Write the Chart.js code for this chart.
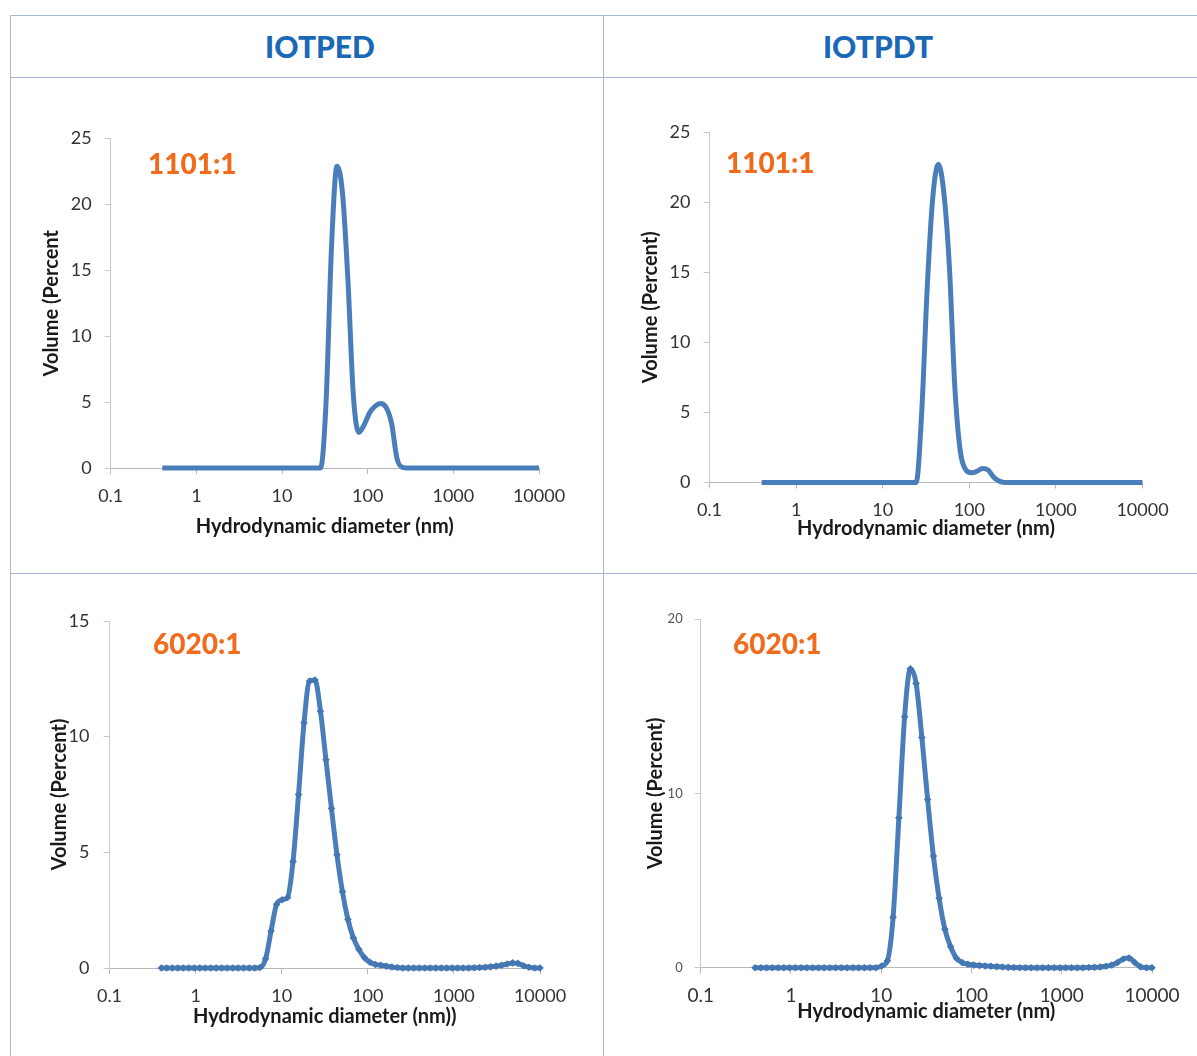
<!DOCTYPE html>
<html>
<head>
<meta charset="utf-8">
<script src="https://cdn.jsdelivr.net/npm/chart.js@4.4.1/dist/chart.umd.min.js"></script>
<style>
body{margin:0;background:#fff;width:1197px;height:1056px;overflow:hidden;position:relative;font-family:Lato,sans-serif}
.ln{position:absolute;background:#a9b7d6}
.hd{position:absolute;top:28px;width:240px;text-align:center;font:900 30px/36px Lato,sans-serif;color:#1a69b8}
.tag{position:absolute;font:900 28px/34px Lato,sans-serif;color:#f06b1c}
canvas{position:absolute}
</style>
</head>
<body>
<div class="ln" style="left:10px;top:15px;width:1200px;height:1px"></div>
<div class="ln" style="left:10px;top:77px;width:1200px;height:1px"></div>
<div class="ln" style="left:10px;top:573px;width:1200px;height:1px"></div>
<div class="ln" style="left:10px;top:15px;width:1px;height:1050px"></div>
<div class="ln" style="left:603px;top:15px;width:1px;height:1050px"></div>

<div class="hd" style="left:200px">IOTPED</div>
<div class="hd" style="left:758px">IOTPDT</div>

<canvas id="c1"></canvas>
<canvas id="c2"></canvas>
<canvas id="c3"></canvas>
<canvas id="c4"></canvas>

<div class="tag" style="left:148px;top:146px">1101:1</div>
<div class="tag" style="left:726px;top:145px">1101:1</div>
<div class="tag" style="left:153px;top:626px">6020:1</div>
<div class="tag" style="left:733px;top:626px">6020:1</div>

<script>
// size bins (nm)
var diameters=[0.4,0.4632,0.5365,0.6213,0.7195,0.8332,0.9649,1.117,1.294,1.499,
  1.736,2.01,2.328,2.696,3.122,3.615,4.187,4.849,5.615,6.503,
  7.531,8.721,10.1,11.7,13.54,15.69,18.17,21.04,24.36,28.21,
  32.67,37.84,43.82,50.75,58.77,68.06,78.82,91.28,105.7,122.4,
  141.8,164.2,190.1,220.2,255,295.3,342,396.1,458.7,531.2,
  615.1,712.4,825,955.4,1106,1281,1484,1718,1990,2305,
  2669,3091,3580,4145,4801,5560,6439,7456,8635,10000];

// IOTPED 1101:1
var iotped1101=[0,0,0,0,0,0,0,0,0,0,
  0,0,0,0,0,0,0,0,0,0,
  0,0,0,0,0,0,0,0,0,0,
  5.0,16.8,22.9,20.9,14.3,5.5,2.7,3.3,4.2,4.7,
  4.9,4.6,3.4,0.7,0.05,0,0,0,0,0,
  0,0,0,0,0,0,0,0,0,0,
  0,0,0,0,0,0,0,0,0,0];

// IOTPDT 1101:1
var iotpdt1101=[0,0,0,0,0,0,0,0,0,0,
  0,0,0,0,0,0,0,0,0,0,
  0,0,0,0,0,0,0,0,0,5.0,
  13.9,20.3,22.7,20.7,15.5,6.8,2.2,0.9,0.7,0.8,
  1.0,0.9,0.4,0.1,0,0,0,0,0,0,
  0,0,0,0,0,0,0,0,0,0,
  0,0,0,0,0,0,0,0,0,0];

// IOTPED 6020:1
var iotped6020=[0,0,0,0,0,0,0,0,0,0,
  0,0,0,0,0,0,0,0,0.02,0.4,
  1.6,2.75,2.95,3.05,4.6,7.5,10.6,12.4,12.45,11.1,
  9.0,6.9,4.9,3.3,2.1,1.3,0.8,0.45,0.25,0.15,
  0.12,0.08,0.04,0.02,0,0,0,0,0,0,
  0,0,0,0,0,0,0,0.01,0.02,0.03,
  0.05,0.08,0.12,0.17,0.22,0.2,0.1,0.03,0,0];

// IOTPDT 6020:1
var iotpdt6020=[0,0,0,0,0,0,0,0,0,0,
  0,0,0,0,0,0,0,0,0,0,
  0,0,0.1,0.4,2.9,8.6,14.4,17.15,16.3,13.2,
  9.65,6.4,3.98,2.2,1.2,0.54,0.3,0.2,0.15,0.12,
  0.1,0.08,0.06,0.04,0.02,0.01,0,0,0,0,
  0,0,0,0,0,0,0,0,0.01,0.02,
  0.04,0.08,0.15,0.3,0.5,0.55,0.3,0.05,0,0];

var xTicks=[0.1,1,10,100,1000,10000];

Chart.defaults.font.family='Lato, sans-serif';

function makeChart(id,values,L){
  var el=document.getElementById(id);
  el.width=L.box[2];el.height=L.box[3];
  el.style.left=L.box[0]+'px';el.style.top=L.box[1]+'px';
  var boxR=L.box[0]+L.box[2],boxB=L.box[1]+L.box[3];
  var half=20*1.2/2;
  var yLeft=L.yTitleX-half,xBottom=L.xTitleY+half;
  var yW=L.area[0]-yLeft,xH=xBottom-L.area[3];
  new Chart(el,{
    type:'line',
    data:{datasets:[{
      data:diameters.map(function(d,i){return {x:d,y:values[i]};}),
      borderColor:'#4a7ebb',
      borderWidth:5,
      pointRadius:L.markers?3.8:0,
      pointStyle:'rectRot',
      pointBackgroundColor:'#4476b2',
      pointBorderWidth:0,
      cubicInterpolationMode:'monotone',
      fill:false,
      clip:8
    }]},
    options:{
      responsive:false,
      animation:false,
      devicePixelRatio:1,
      layout:{padding:{left:yLeft-L.box[0],top:L.area[1]-L.box[1],right:boxR-L.area[2],bottom:boxB-xBottom}},
      plugins:{legend:{display:false},tooltip:{enabled:false}},
      scales:{
        x:{
          type:'logarithmic',min:0.1,max:10000,
          afterBuildTicks:function(s){s.ticks=xTicks.map(function(v){return {value:v};});},
          afterFit:function(s){s.height=xH;s.paddingLeft=0;s.paddingRight=0;},
          ticks:{autoSkip:false,maxRotation:0,padding:L.xPad,color:'#333',font:{size:L.xFont},
            callback:function(v){return String(v);}},
          grid:{drawOnChartArea:false,tickLength:6,color:'#b8b8b8'},
          border:{color:'#b8b8b8',width:1},
          title:{display:true,text:L.xTitle,color:'#1a1a1a',font:{size:20,weight:'bold'},padding:0}
        },
        y:{
          min:0,max:L.yMax,
          afterFit:function(s){s.width=yW;s.paddingTop=0;s.paddingBottom=0;},
          ticks:{stepSize:L.yStep,padding:L.yPad,color:L.yColor,font:{size:L.yFont}},
          grid:{drawOnChartArea:false,tickLength:6,color:'#c8c8c8'},
          border:{color:'#c8c8c8',width:1},
          title:{display:true,text:L.yTitle,color:'#1a1a1a',font:{size:20,weight:'bold'},padding:0}
        }
      }
    }
  });
}

makeChart('c1',iotped1101,{box:[20,100,585,470],area:[110.7,138.5,539,468],yTitleX:52,xTitleY:527,
  yMax:25,yStep:5,xPad:11,yPad:13,xFont:18,yFont:18,yColor:'#333',markers:false,
  xTitle:'Hydrodynamic diameter (nm)',yTitle:'Volume (Percent'});
makeChart('c2',iotpdt1101,{box:[620,100,577,470],area:[709.5,132,1142.5,482.5],yTitleX:651,xTitleY:529,
  yMax:25,yStep:5,xPad:11,yPad:13,xFont:18,yFont:18,yColor:'#333',markers:false,
  xTitle:'Hydrodynamic diameter (nm)',yTitle:'Volume (Percent)'});
makeChart('c3',iotped6020,{box:[20,590,585,460],area:[109.5,621,540,968],yTitleX:60,xTitleY:1017,
  yMax:15,yStep:5,xPad:11,yPad:14,xFont:18,yFont:18,yColor:'#333',markers:true,
  xTitle:'Hydrodynamic diameter (nm))',yTitle:'Volume (Percent)'});
makeChart('c4',iotpdt6020,{box:[620,590,577,460],area:[700.7,619,1152,967.7],yTitleX:656,xTitleY:1012,
  yMax:20,yStep:10,xPad:11,yPad:12,xFont:19,yFont:13,yColor:'#555',markers:true,
  xTitle:'Hydrodynamic diameter (nm)',yTitle:'Volume (Percent)'});
</script>
</body>
</html>
